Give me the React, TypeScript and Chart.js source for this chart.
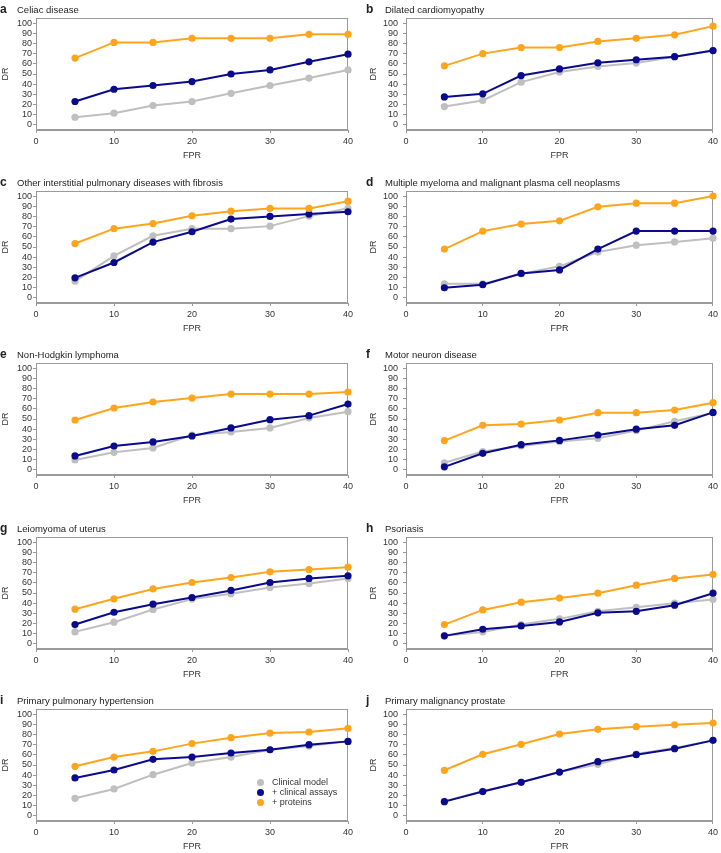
import React, { useEffect, useRef } from "react";
import { Chart, registerables } from "chart.js";
Chart.register(...registerables);

// ---- data ----
const fpr = [5, 10, 15, 20, 25, 30, 35, 40];
const xTicks = [0, 10, 20, 30, 40];
const yTicks = [0, 10, 20, 30, 40, 50, 60, 70, 80, 90, 100];
const seriesNames = ["Clinical model", "+ clinical assays", "+ proteins"];
const panelLetters = ["a", "b", "c", "d", "e", "f", "g", "h", "i", "j"];
const panelTitles = [
  "Celiac disease",
  "Dilated cardiomyopathy",
  "Other interstitial pulmonary diseases with fibrosis",
  "Multiple myeloma and malignant plasma cell neoplasms",
  "Non-Hodgkin lymphoma",
  "Motor neuron disease",
  "Leiomyoma of uterus",
  "Psoriasis",
  "Primary pulmonary hypertension",
  "Primary malignancy prostate",
];

const clinicalA = [7.5, 11.5, 19, 23, 31, 38.7, 46, 54];
const assaysA = [23, 35, 38.7, 42.6, 50, 54, 62, 69.5];
const proteinsA = [65.6, 81, 81, 85, 85, 85, 89, 89];

const clinicalB = [18, 24, 42, 52, 57.4, 60.7, 67, 73];
const assaysB = [27.5, 30.5, 48.5, 55, 61, 64, 67, 73];
const proteinsB = [58, 70, 76, 76, 82, 85, 88.5, 97];

const clinicalC = [16.4, 41.3, 61, 68, 68, 70.5, 80.3, 88];
const assaysC = [19.7, 34.8, 54.8, 65, 77.4, 80, 82.3, 84.6];
const proteinsC = [53.4, 68, 73, 80.7, 85.2, 87.9, 87.9, 95];

const clinicalD = [13.8, 13.8, 23.6, 31, 45, 51.8, 55, 58.7];
const assaysD = [10, 13, 24, 27.5, 48, 65.6, 65.6, 65.6];
const proteinsD = [48, 65.6, 72.5, 75.7, 89.5, 93, 93, 100];

const clinicalE = [9.8, 17.3, 21.6, 34.3, 37.3, 41.2, 51, 57.2];
const assaysE = [13.7, 23.5, 27.5, 33.3, 41.2, 49.3, 53.3, 64.7];
const proteinsE = [49, 60.8, 66.7, 70.6, 74.5, 74.5, 74.5, 76.5];

const clinicalF = [7, 18, 23.5, 27.8, 31, 38.6, 47.7, 56];
const assaysF = [3, 16.3, 24.8, 29, 34.3, 40, 43.8, 56.5];
const proteinsF = [28.8, 43.8, 45, 49, 56.2, 56.2, 58.8, 66];

const clinicalG = [11.8, 21.3, 33.8, 44, 49.2, 55.4, 59.3, 64.3];
const assaysG = [19, 31.1, 39, 45.6, 52.5, 60.3, 64.3, 66.9];
const proteinsG = [34.1, 44.3, 54, 60.3, 65.2, 70.8, 73.1, 75.4];

const clinicalH = [7.9, 11.8, 19, 24.6, 32, 36, 40, 43.6];
const assaysH = [7.9, 14.4, 17.7, 21.6, 30.5, 32, 38, 49.8];
const proteinsH = [19, 33.4, 41, 45, 49.8, 57.7, 64.3, 68.2];

const clinicalI = [17.3, 26.5, 40.5, 52, 57.8, 65, 68.6, 73.2];
const assaysI = [37.3, 45.1, 55.6, 57.8, 61.8, 65, 70, 73.2];
const proteinsI = [48.7, 57.8, 63.4, 71, 76.8, 81.4, 82.4, 86];

const clinicalJ = [14.4, 24.2, 33, 43.1, 50.7, 60.8, 66.7, 74.2];
const assaysJ = [14, 23.9, 33, 43.1, 53.3, 60.1, 66, 74.2];
const proteinsJ = [44.8, 60.5, 70.3, 80.4, 85, 87.6, 89.5, 91.2];

const clinicalAll = [clinicalA, clinicalB, clinicalC, clinicalD, clinicalE, clinicalF, clinicalG, clinicalH, clinicalI, clinicalJ];
const assaysAll = [assaysA, assaysB, assaysC, assaysD, assaysE, assaysF, assaysG, assaysH, assaysI, assaysJ];
const proteinsAll = [proteinsA, proteinsB, proteinsC, proteinsD, proteinsE, proteinsF, proteinsG, proteinsH, proteinsI, proteinsJ];

// ---- style ----
const GRAY = "#bfbfbf";
const NAVY = "#0a0a8c";
const ORANGE = "#ffa51c";
const AXIS = "#9a9a9a";
const TEXT = "#333333";
const FONT = "'Liberation Sans', Arial, sans-serif";
const ROW_TOPS = [0, 173, 345, 519, 691];
const PANEL_H = 173;

const boxPlugin = {
  id: "box",
  beforeDatasetsDraw(chart: any) {
    const { ctx, chartArea } = chart;
    ctx.save();
    ctx.strokeStyle = AXIS;
    ctx.lineWidth = 1;
    ctx.strokeRect(
      Math.round(chartArea.left) + 0.5,
      Math.round(chartArea.top) + 0.5,
      Math.round(chartArea.right - chartArea.left) - 1,
      Math.round(chartArea.bottom - chartArea.top) - 1
    );
    ctx.restore();
  },
};

function makeDataset(label: string, values: number[], color: string, order: number) {
  return {
    label,
    data: fpr.map((x, i) => ({ x, y: values[i] })),
    borderColor: color,
    backgroundColor: color,
    pointBackgroundColor: color,
    pointBorderColor: color,
    pointRadius: 3.6,
    pointBorderWidth: 0,
    borderWidth: 2,
    tension: 0,
    clip: false as any,
    order,
  };
}

function Panel({ idx }: { idx: number }) {
  const ref = useRef<HTMLCanvasElement>(null);
  const col = idx % 2;
  const row = Math.floor(idx / 2);
  const isLeft = col === 0;
  const width = isLeft ? 360 : 361;
  useEffect(() => {
    const tickFont = { family: FONT, size: 9 };
    const chart = new Chart(ref.current!, {
      type: "line",
      data: {
        datasets: [
          makeDataset(seriesNames[2], proteinsAll[idx], ORANGE, 0),
          makeDataset(seriesNames[1], assaysAll[idx], NAVY, 1),
          makeDataset(seriesNames[0], clinicalAll[idx], GRAY, 2),
        ],
      },
      options: {
        responsive: false,
        animation: false,
        devicePixelRatio: 1,
        layout: { padding: { top: 18, right: isLeft ? 12 : 5, left: 0, bottom: 0 } },
        plugins: { legend: { display: false }, tooltip: { enabled: false } },
        scales: {
          x: {
            type: "linear",
            min: 0,
            max: 40,
            afterBuildTicks: (s: any) => {
              s.ticks = xTicks.map((v) => ({ value: v }));
            },
            afterFit: (s: any) => {
              s.height = 43;
            },
            grid: { drawOnChartArea: false, drawTicks: true, tickLength: 3, color: AXIS },
            border: { display: true, color: AXIS },
            ticks: { font: tickFont, color: TEXT, padding: 3, maxRotation: 0, autoSkip: false },
            title: { display: true, text: "FPR", font: tickFont, color: TEXT, padding: { top: 0, bottom: 12 } },
          },
          y: {
            type: "linear",
            min: -5,
            max: 105,
            afterBuildTicks: (s: any) => {
              s.ticks = yTicks.map((v) => ({ value: v }));
            },
            afterFit: (s: any) => {
              s.width = isLeft ? 36 : 46;
            },
            grid: { drawOnChartArea: false, drawTicks: true, tickLength: 3, color: AXIS },
            border: { display: true, color: AXIS },
            ticks: { font: tickFont, color: TEXT, padding: isLeft ? 1 : 5, autoSkip: false },
            title: { display: true, text: "DR", font: tickFont, color: TEXT, padding: { top: isLeft ? 0 : 8, bottom: 0 } },
          },
        },
      } as any,
      plugins: [boxPlugin],
    });
    return () => chart.destroy();
  }, [idx]);

  const top = ROW_TOPS[row];
  const left = isLeft ? 0 : 360;
  return (
    <>
      <canvas
        ref={ref}
        width={width}
        height={PANEL_H}
        style={{ position: "absolute", left, top, width, height: PANEL_H }}
      />
      <div
        style={{
          position: "absolute",
          left: isLeft ? 0 : 366,
          top: top + 1,
          height: 13,
          lineHeight: "13px",
          whiteSpace: "nowrap",
          fontFamily: FONT,
          color: "#222",
        }}
      >
        <span style={{ fontWeight: 700, fontSize: 12, display: "inline-block", width: isLeft ? 17 : 19 }}>
          {panelLetters[idx]}
        </span>
        <span style={{ fontSize: 9.5 }}>{panelTitles[idx]}</span>
      </div>
    </>
  );
}

function Legend() {
  const colors = [GRAY, NAVY, ORANGE];
  return (
    <div style={{ position: "absolute", left: 257, top: 777, fontFamily: FONT, fontSize: 9, color: TEXT }}>
      {seriesNames.map((n, i) => (
        <div key={n} style={{ display: "flex", alignItems: "center", height: 10, lineHeight: "10px" }}>
          <span
            style={{
              display: "inline-block",
              width: 7,
              height: 7,
              borderRadius: "50%",
              background: colors[i],
              marginRight: 8,
            }}
          />
          <span>{n}</span>
        </div>
      ))}
    </div>
  );
}

export default function App() {
  return (
    <div
      style={{
        position: "absolute",
        left: 0,
        top: 0,
        width: 721,
        height: 853,
        overflow: "hidden",
        background: "#fff",
      }}
    >
      {panelLetters.map((_, i) => (
        <Panel key={i} idx={i} />
      ))}
      <Legend />
    </div>
  );
}
